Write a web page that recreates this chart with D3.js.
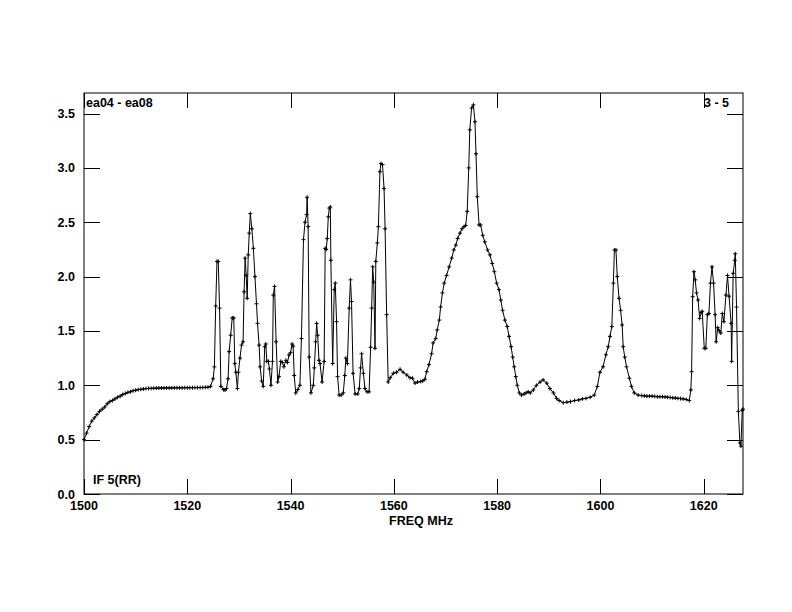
<!DOCTYPE html>
<html><head><meta charset="utf-8">
<script src="https://cdn.jsdelivr.net/npm/d3@7"></script>
<style>body{margin:0;background:#fff}svg{display:block}text{font-family:"Liberation Sans",Arial,sans-serif;font-weight:bold;fill:#000}</style>
</head><body><svg id="c" width="792" height="612"></svg>
<script>
const freqs = [1500.0,1500.5,1501.0,1501.5,1502.0,1502.5,1503.0,1503.5,1504.0,1504.5,1505.0,1505.5,1506.0,1506.5,1507.0,1507.5,1508.0,1508.5,1509.0,1509.5,1510.0,1510.5,1511.0,1511.5,1512,1512.5,1513,1513.5,1514,1514.5,1515,1515.5,1516,1516.5,1517,1517.5,1518,1518.5,1519,1519.5,1520,1520.5,1521,1521.5,1522,1522.5,1523,1523.5,1524,1524.5,
1525.0,1525.25,1525.5,1525.75,1526.0,1526.25,1526.5,1527.0,1527.3,1527.6,1527.9,1528.1,1528.4,1528.7,1529.0,1529.2,1529.4,1529.7,1529.9,1530.2,1530.5,1530.8,1531.0,1531.2,1531.4,1531.6,1531.8,1532.0,1532.2,1532.5,1532.8,1533.1,1533.4,1533.6,1533.9,1534.1,1534.4,1534.7,1535.0,1535.2,1535.4,1535.7,1535.9,1536.2,1536.5,1536.65,1536.9,1537.2,1537.5,1537.75,1538.1,1538.4,1538.7,1539.1,1539.4,1539.7,1540.0,1540.3,1540.5,1540.7,1541.0,1541.4,1541.8,1542.1,1542.5,1542.8,1543.1,1543.2,1543.4,1543.6,1543.95,1544.4,1544.6,1544.85,1545.05,1545.25,1545.5,1545.7,1546.1,1546.5,1546.7,1546.9,1547.1,1547.3,1547.5,1547.7,1547.8,1548.15,1548.45,1548.65,1548.9,1549.1,1549.4,1549.8,1550.2,1550.5,1550.7,1551.0,1551.35,1551.6,1551.8,1552.1,1552.5,1553.0,1553.3,1553.55,1553.75,1554.1,1554.4,1554.8,1555.2,1555.5,1555.7,1555.9,1556.1,1556.35,1556.5,1556.8,1557.0,1557.3,1557.5,1557.8,1558.1,1558.3,1558.6,1558.9,1559.3,1559.9,1560.5,1561.2,1561.8,1562.5,1563.1,1563.6,1564.1,1564.6,1565.2,1565.6,1566.0,1566.35,1566.8,1567.3,1567.6,1568.1,1568.4,1568.8,1569.05,1569.4,1569.75,1570.2,1570.7,1571.2,1571.6,1572.0,1572.35,1572.8,1573.2,1573.6,1573.9,1574.2,1574.5,1574.7,1575.05,1575.4,1575.7,1575.9,1576.15,1576.5,1576.8,1577.2,1577.6,1578.15,1578.6,1579.05,1579.45,1579.9,1580.35,1580.7,1581.05,1581.5,1581.95,1582.3,1582.7,1583.0,1583.3,1583.6,1583.9,1584.3,1584.7,1585.2,1585.6,1586.0,1586.4,1587.0,1587.6,1588.3,1588.9,1589.6,1590.2,1590.9,1591.5,1592.0,1592.8,1593.5,1594.2,1595.0,1595.8,1596.5,1597.2,1598.0,1598.8,1599.4,1599.9,1600.5,1601.05,1601.5,1601.85,1602.2,1602.5,1602.7,1603.0,1603.25,1603.6,1603.9,1604.2,1604.4,1604.7,1605.05,1605.6,1606.0,1606.55,1607.3,1608,1608.5,1609,1609.5,1610,1610.5,1611,1611.5,1612,1612.5,1613,1613.5,1614,1614.5,1615,1615.5,1616,1616.6,1617.2,1617.5,1617.65,1617.85,1618.1,1618.35,1618.6,1618.9,1619.2,1619.5,1619.7,1620.1,1620.4,1620.7,1621.0,1621.3,1621.6,1621.9,1622.2,1622.4,1622.7,1623.0,1623.3,1623.6,1623.9,1624.3,1624.6,1624.9,1625.3,1625.4,1625.7,1626.0,1626.1,1626.35,1626.7,1627.0,1627.2,1627.45,1627.6];
const amps = [0.50,0.56,0.62,0.67,0.70,0.73,0.76,0.78,0.80,0.83,0.85,0.86,0.875,0.89,0.90,0.915,0.925,0.935,0.94,0.95,0.955,0.96,0.963,0.966,0.97,0.971,0.972,0.973,0.974,0.975,0.975,0.976,0.976,0.976,0.976,0.977,0.977,0.977,0.977,0.978,0.978,0.978,0.978,0.979,0.979,0.979,0.980,0.981,0.982,0.99,
1.06,1.17,1.73,2.14,2.14,1.71,0.99,0.96,0.957,0.97,1.06,1.31,1.46,1.62,1.62,1.20,1.12,0.97,1.12,1.25,1.37,1.40,1.86,2.17,2.01,1.80,2.20,2.40,2.58,2.44,2.26,2.00,1.75,1.57,1.37,1.17,1.04,0.99,1.355,1.38,1.22,1.22,1.15,1.00,1.22,1.83,1.91,1.40,1.03,1.08,1.22,1.21,1.17,1.23,1.21,1.28,1.30,1.38,1.36,1.09,0.93,0.96,1.00,1.43,2.34,2.50,2.57,2.73,2.46,1.26,0.93,1.00,1.16,1.40,1.57,1.46,1.23,1.20,1.03,1.22,2.26,2.25,2.35,2.55,2.63,2.64,2.15,1.20,1.88,1.94,1.585,1.08,0.91,0.91,0.93,1.09,1.25,1.20,1.71,1.97,1.77,1.11,0.92,0.92,0.97,1.16,1.29,1.11,0.97,0.94,0.94,1.35,1.71,2.09,1.95,1.34,2.14,2.31,2.46,2.965,3.04,3.03,2.81,2.44,1.65,1.03,1.07,1.11,1.12,1.147,1.12,1.095,1.07,1.065,1.02,1.03,1.035,1.04,1.055,1.125,1.19,1.29,1.39,1.43,1.51,1.60,1.72,1.85,1.94,2.01,2.09,2.17,2.245,2.29,2.35,2.40,2.44,2.46,2.47,2.60,3.00,3.35,3.55,3.58,3.425,3.13,2.735,2.475,2.475,2.38,2.32,2.245,2.20,2.12,2.045,1.94,1.88,1.785,1.69,1.60,1.54,1.45,1.355,1.26,1.17,1.08,1.00,0.93,0.91,0.92,0.93,0.94,0.93,0.957,1.00,1.03,1.05,1.02,0.97,0.93,0.88,0.86,0.84,0.845,0.85,0.86,0.865,0.875,0.88,0.89,0.91,0.99,1.12,1.17,1.28,1.355,1.45,1.54,1.94,2.245,2.245,2.00,1.80,1.69,1.555,1.355,1.26,1.17,1.065,0.99,0.93,0.91,0.905,0.903,0.90,0.90,0.90,0.898,0.895,0.895,0.895,0.893,0.89,0.888,0.885,0.883,0.88,0.878,0.875,0.87,0.86,0.957,1.125,1.815,2.045,1.97,1.85,1.785,1.615,1.67,1.68,1.34,1.34,1.65,1.66,1.94,2.09,1.94,1.65,1.40,1.53,1.50,1.48,1.66,1.585,1.83,2.01,1.82,1.57,1.22,2.03,2.15,2.21,1.72,0.76,0.47,0.44,0.77,0.78];
const xTicks = [1500,1520,1540,1560,1580,1600,1620];
const yTicks = [0.0,0.5,1.0,1.5,2.0,2.5,3.0,3.5];
const xLabel = "FREQ MHz";
const topLeft = "ea04 - ea08";
const topRight = "3 - 5";
const bottomLeft = "IF 5(RR)";

const svg = d3.select("#c");
const L=84, R=743, T=93, B=494;
const x = d3.scaleLinear().domain([1500,1627.6]).range([L,R]);
const y = d3.scaleLinear().domain([0,3.689]).range([B,T]);
const data = freqs.map((f,i)=>[f,amps[i]]);

svg.append("rect").attr("x",L).attr("y",T).attr("width",R-L).attr("height",B-T)
  .attr("fill","none").attr("stroke","#000").attr("stroke-width",1);

const tk = svg.append("g").attr("stroke","#000").attr("stroke-width",1);
xTicks.forEach(t=>{
  const px = Math.round(x(t))+0.5;
  tk.append("line").attr("x1",px).attr("x2",px).attr("y1",B).attr("y2",B-15);
  tk.append("line").attr("x1",px).attr("x2",px).attr("y1",T).attr("y2",T+15);
  svg.append("text").attr("x",x(t)).attr("y",510).attr("text-anchor","middle").attr("font-size",12.5).text(t);
});
yTicks.forEach(t=>{
  const py = Math.round(y(t))+0.5;
  tk.append("line").attr("x1",L).attr("x2",L+16).attr("y1",py).attr("y2",py);
  tk.append("line").attr("x1",R).attr("x2",R-16).attr("y1",py).attr("y2",py);
  svg.append("text").attr("x",75).attr("y",y(t)).attr("dy","0.36em").attr("text-anchor","end").attr("font-size",12.5).text(t.toFixed(1));
});

svg.append("text").attr("x",421).attr("y",525).attr("text-anchor","middle").attr("font-size",12.5).text(xLabel);
svg.append("text").attr("x",86).attr("y",107).attr("font-size",12.5).text(topLeft);
svg.append("text").attr("x",729).attr("y",107).attr("text-anchor","end").attr("font-size",12.5).text(topRight);
svg.append("text").attr("x",93).attr("y",484).attr("font-size",12.5).text(bottomLeft);

const g = svg.append("g");
g.append("path").datum(data)
  .attr("d", d3.line().x(d=>x(d[0])).y(d=>y(d[1])))
  .attr("fill","none").attr("stroke","#000").attr("stroke-width",1);
g.append("path")
  .attr("d", data.map(d=>{const px=x(d[0]), py=y(d[1]);
     return `M${px-2},${py}H${px+2}M${px},${py-2}V${py+2}`;}).join(""))
  .attr("stroke","#000").attr("stroke-width",1).attr("fill","none");
</script></body></html>
